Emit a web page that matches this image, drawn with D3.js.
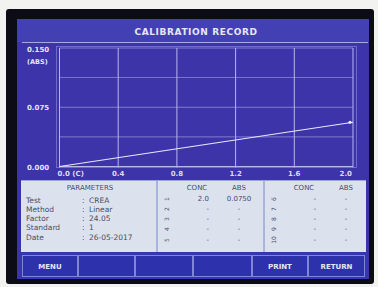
<!DOCTYPE html>
<html><head><meta charset="utf-8">
<script src="https://cdn.jsdelivr.net/npm/d3@7"></script>
<style>
html,body{margin:0;padding:0;background:#f2f2f0;}
svg{display:block;}
text{font-family:"DejaVu Sans",sans-serif;}
</style></head>
<body>
<svg id="c" width="378" height="287"></svg>
<script>
// ---- data ----
const title = "CALIBRATION RECORD";
const yUnit = "(ABS)";
const xTicks = [0, 0.4, 0.8, 1.2, 1.6, 2.0];
const xTickLabels = ["0.0 (C)", "0.4", "0.8", "1.2", "1.6", "2.0"];
const yGrid = [0, 0.0375, 0.075, 0.1125, 0.15];
const yTicks = [0, 0.075, 0.15];
const yTickLabels = ["0.000", "0.075", "0.150"];
const curveConc = [0, 2.0];
const curveAbs = [0, 0.056];
const paramNames = ["Test", "Method", "Factor", "Standard", "Date"];
const paramValues = ["CREA", "Linear", "24.05", "1", "26-05-2017"];
const stdNumA = ["1", "2", "3", "4", "5"];
const stdConcA = ["2.0", "-", "-", "-", "-"];
const stdAbsA = ["0.0750", "-", "-", "-", "-"];
const stdNumB = ["6", "7", "8", "9", "10"];
const stdConcB = ["-", "-", "-", "-", "-"];
const stdAbsB = ["-", "-", "-", "-", "-"];
const buttons = ["MENU", "", "", "", "PRINT", "RETURN"];

// ---- drawing ----
const svg = d3.select("#c");
// device frame
svg.append("rect").attr("x",6).attr("y",9).attr("width",368).attr("height",275).attr("rx",3).attr("fill","#0c0c16");
// screen
svg.append("rect").attr("x",17).attr("y",19).attr("width",352).attr("height",260).attr("fill","#3d34aa");
// title band
svg.append("rect").attr("x",17).attr("y",19).attr("width",352).attr("height",23).attr("fill","#4340b4");
svg.append("text").attr("x",196).attr("y",35).attr("text-anchor","middle")
  .attr("font-size",9).attr("font-weight","bold").attr("letter-spacing",0.6).attr("fill","#e6e6f6").text(title);
svg.append("line").attr("x1",22).attr("x2",368).attr("y1",42.5).attr("y2",42.5).attr("stroke","#a9a6e6").attr("stroke-width",1.2);

// plot
const x = d3.scaleLinear().domain([0, 2.0]).range([59.5, 353]);
const y = d3.scaleLinear().domain([0, 0.15]).range([166.5, 48]);
const grid = "#b8b6ee";
svg.append("rect").attr("x",56.5).attr("y",46.5).attr("width",300).attr("height",121).attr("fill","none").attr("stroke","#7d78d0").attr("stroke-width",0.8);
svg.append("g").selectAll("line").data(xTicks).join("line")
  .attr("x1",d=>x(d)).attr("x2",d=>x(d)).attr("y1",y(0.15)).attr("y2",y(0)+1)
  .attr("stroke",grid).attr("stroke-width",1);
svg.append("g").selectAll("line").data(yGrid).join("line")
  .attr("x1",x(0)).attr("x2",x(2.0)).attr("y1",d=>y(d)).attr("y2",d=>y(d))
  .attr("stroke",grid).attr("stroke-width",d=>d===0?1.2:0.7).attr("opacity",d=>d===0?1:0.8);
// y labels
svg.append("g").selectAll("text").data(yTicks).join("text")
  .attr("x",27).attr("y",(d,i)=>y(d)+(i===2?4:3))
  .attr("font-size",7).attr("font-weight","bold").attr("fill","#e4e4f6").text((d,i)=>yTickLabels[i]);
svg.append("text").attr("x",27).attr("y",64).attr("font-size",6.5).attr("font-weight","bold").attr("fill","#e4e4f6").text(yUnit);
// x labels
svg.append("g").selectAll("text").data(xTicks).join("text")
  .attr("x",(d,i)=>i===0?x(d)-2:(i===5?x(d)-1:x(d)))
  .attr("y",176).attr("text-anchor",(d,i)=>i===0?"start":(i===5?"end":"middle"))
  .attr("font-size",7).attr("font-weight","bold").attr("fill","#dcdcf4").text((d,i)=>xTickLabels[i]);
// curve
const pts = curveConc.map((c,i)=>[c, curveAbs[i]]);
svg.append("path").datum(pts).attr("d",d3.line().x(d=>x(d[0])).y(d=>y(d[1])))
  .attr("fill","none").attr("stroke","#e8e8fa").attr("stroke-width",1.1);
svg.append("g").selectAll("circle").data(pts.slice(1)).join("circle")
  .attr("cx",d=>x(d[0])-3).attr("cy",d=>y(d[1])).attr("r",1.6).attr("fill","#f0f0ff");

// info panel
svg.append("rect").attr("x",21).attr("y",180).attr("width",345).attr("height",72).attr("fill","#dbe2ee");
svg.append("line").attr("x1",21).attr("x2",366).attr("y1",180.5).attr("y2",180.5).attr("stroke","#9aa4d8");
[157, 264].forEach(v=>svg.append("line").attr("x1",v).attr("x2",v).attr("y1",181).attr("y2",252).attr("stroke","#7b86c6").attr("stroke-width",1));
const ink = "#4a4c66";
svg.append("text").attr("x",90).attr("y",190).attr("text-anchor","middle").attr("font-size",7).attr("fill",ink).text("PARAMETERS");
const rowY = [203, 212, 221, 230, 240];
const pg = svg.append("g").attr("font-size",7.5).attr("fill",ink);
paramNames.forEach((n,i)=>{
  pg.append("text").attr("x",26).attr("y",rowY[i]).text(n);
  pg.append("text").attr("x",82).attr("y",rowY[i]).text(":");
  pg.append("text").attr("x",89).attr("y",rowY[i]).text(paramValues[i]);
});
function stdTable(x0, nums, conc, abs){
  const g = svg.append("g").attr("font-size",7).attr("fill",ink);
  g.append("text").attr("x",x0+40).attr("y",190).attr("text-anchor","middle").text("CONC");
  g.append("text").attr("x",x0+82).attr("y",190).attr("text-anchor","middle").text("ABS");
  const ry = [201, 211, 221, 231, 242];
  nums.forEach((n,i)=>{
    g.append("text").attr("transform",`translate(${x0+12},${ry[i]-2}) rotate(-90)`).attr("font-size",6).attr("text-anchor","middle").text(n);
    g.append("text").attr("x",x0+52).attr("y",ry[i]).attr("text-anchor","end").text(conc[i]);
    g.append("text").attr("x",x0+82).attr("y",ry[i]).attr("text-anchor","middle").text(abs[i]);
  });
}
stdTable(157, stdNumA, stdConcA, stdAbsA);
stdTable(264, stdNumB, stdConcB, stdAbsB);

// buttons
const bx = [22, 78, 135, 193, 252, 308, 365];
svg.append("rect").attr("x",20).attr("y",252).attr("width",348).attr("height",27).attr("fill","#3437b0");
buttons.forEach((b,i)=>{
  svg.append("rect").attr("x",bx[i]+0.5).attr("y",255.5).attr("width",bx[i+1]-bx[i]-1).attr("height",21)
    .attr("fill","#2e31ac").attr("stroke","#7f86d8").attr("stroke-width",1);
  svg.append("text").attr("x",(bx[i]+bx[i+1])/2).attr("y",269).attr("text-anchor","middle")
    .attr("font-size",7).attr("font-weight","bold").attr("fill","#e6e6f6").text(b);
});
</script>
</body></html>
